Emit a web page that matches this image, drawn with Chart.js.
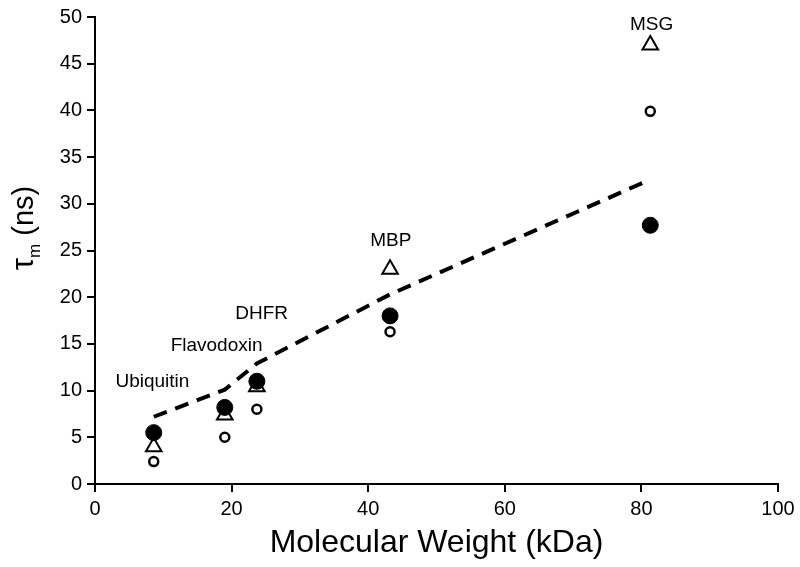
<!DOCTYPE html>
<html>
<head>
<meta charset="utf-8">
<script src="https://cdn.jsdelivr.net/npm/chart.js@4/dist/chart.umd.min.js"></script>
<style>
  html, body { margin: 0; padding: 0; background: #fff; }
</style>
</head>
<body>
<canvas id="tauChart" width="800" height="567"></canvas>
<script>
// Data
const proteins = ["Ubiquitin", "Flavodoxin", "DHFR", "MBP", "MSG"];
const molecularWeight = [8.6, 19.0, 23.7, 43.2, 81.3];
const tauFilled = [5.5, 8.2, 11.0, 18.0, 27.7];
const tauTriangle = [4.0, 7.4, 10.4, 23.0, 47.0];
const tauOpen = [2.4, 5.0, 8.0, 16.3, 39.9];
const tauDashed = [7.2, 10.1, 12.9, 20.3, 32.6];
// where each protein name sits, in axis units
const labelX = [8.4, 17.8, 24.4, 43.3, 81.5];
const labelY = [10.9, 14.8, 18.2, 26.0, 49.2];
const xTicks = [0, 20, 40, 60, 80, 100];
const yTicks = [0, 5, 10, 15, 20, 25, 30, 35, 40, 45, 50];

const FONT = "'Liberation Sans', Arial, Helvetica, sans-serif";

function points(ys) {
  return molecularWeight.map((x, i) => ({ x: x, y: ys[i] }));
}

// protein names and the two axis titles (y title needs a subscript)
const textPlugin = {
  id: "textPlugin",
  afterDraw(chart) {
    const { ctx, chartArea } = chart;
    const x = chart.scales.x;
    const y = chart.scales.y;
    ctx.save();
    ctx.fillStyle = "#000";
    ctx.textAlign = "center";
    ctx.textBaseline = "middle";
    ctx.font = "19px " + FONT;
    proteins.forEach((name, i) => {
      ctx.fillText(name, x.getPixelForValue(labelX[i]), y.getPixelForValue(labelY[i]));
    });

    ctx.font = "32px " + FONT;
    ctx.fillText("Molecular Weight (kDa)", (chartArea.left + chartArea.right) / 2, 543);

    // y title: τ with subscript m, then (ns)
    ctx.translate(33, 228);
    ctx.rotate(-Math.PI / 2);
    ctx.textAlign = "left";
    ctx.textBaseline = "alphabetic";
    const bigFont = "31px " + FONT;
    const subFont = "17px " + FONT;
    const unitFont = "29px " + FONT;
    ctx.font = bigFont;
    const wTau = ctx.measureText("τ").width;
    ctx.font = subFont;
    const wSub = ctx.measureText("m").width;
    ctx.font = unitFont;
    const wUnit = ctx.measureText(" (ns)").width;
    let cx = -(wTau + wSub + wUnit) / 2;
    ctx.font = bigFont;
    ctx.fillText("τ", cx, 0);
    cx += wTau;
    ctx.font = subFont;
    ctx.fillText("m", cx, 7);
    cx += wSub;
    ctx.font = unitFont;
    ctx.fillText(" (ns)", cx, 0);
    ctx.restore();
  }
};

const axisStyle = {
  type: "linear",
  border: { display: true, color: "#000", width: 2 },
  grid: {
    drawOnChartArea: false,
    drawTicks: true,
    tickLength: 8,
    color: "#000",
    lineWidth: 2
  },
  ticks: {
    color: "#000",
    font: { size: 20, family: FONT },
    padding: 5
  }
};

new Chart(document.getElementById("tauChart"), {
  type: "scatter",
  data: {
    datasets: [
      {
        label: "filled",
        data: points(tauFilled),
        pointStyle: "circle",
        pointRadius: 8,
        backgroundColor: "#000",
        borderColor: "#000",
        borderWidth: 1
      },
      {
        label: "triangle",
        data: points(tauTriangle),
        pointStyle: "triangle",
        pointRadius: 9,
        backgroundColor: "#fff",
        borderColor: "#000",
        borderWidth: 2
      },
      {
        label: "open",
        data: points(tauOpen),
        pointStyle: "circle",
        pointRadius: 4.5,
        backgroundColor: "#fff",
        borderColor: "#000",
        borderWidth: 2.5
      },
      {
        label: "dashed",
        data: points(tauDashed),
        showLine: true,
        pointRadius: 0,
        borderColor: "#000",
        borderWidth: 4,
        borderDash: [14, 9],
        fill: false
      }
    ]
  },
  options: {
    responsive: false,
    animation: false,
    devicePixelRatio: 1,
    layout: { padding: { top: 15, right: 22, left: 0, bottom: 0 } },
    plugins: {
      legend: { display: false },
      tooltip: { enabled: false }
    },
    scales: {
      x: {
        ...axisStyle,
        min: 0,
        max: 100,
        afterBuildTicks: (s) => { s.ticks = xTicks.map((v) => ({ value: v })); },
        afterFit: (s) => { s.height = 83; }
      },
      y: {
        ...axisStyle,
        min: 0,
        max: 50,
        afterBuildTicks: (s) => { s.ticks = yTicks.map((v) => ({ value: v })); },
        afterFit: (s) => { s.width = 95; }
      }
    }
  },
  plugins: [textPlugin]
});
</script>
</body>
</html>
